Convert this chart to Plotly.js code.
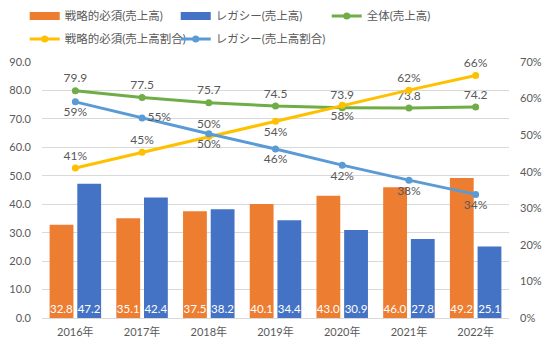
<!DOCTYPE html>
<html><head><meta charset="utf-8">
<script src="https://cdn.plot.ly/plotly-3.0.1.min.js"></script>
<style>html,body{margin:0;padding:0;background:#fff}#chart{width:550px;height:351px}</style>
</head><body><div id="chart"></div>
<script>
const years = ['2016年','2017年','2018年','2019年','2020年','2021年','2022年'];
const strategicSales = [32.8, 35.1, 37.5, 40.1, 43.0, 46.0, 49.2];
const legacySales = [47.2, 42.4, 38.2, 34.4, 30.9, 27.8, 25.1];
const totalSales = [79.9, 77.5, 75.7, 74.5, 73.9, 73.8, 74.2];
const strategicShare = [0.410, 0.453, 0.496, 0.538, 0.582, 0.623, 0.663];
const legacyShare = [0.591, 0.547, 0.504, 0.462, 0.418, 0.377, 0.338];
const names = ['戦略的必須(売上高)','レガシー(売上高)','全体(売上高)','戦略的必須(売上高割合)','レガシー(売上高割合)'];

const C = {orange:'#ED7D31', blue:'#4472C4', green:'#70AD47', yellow:'#FFC000', lblue:'#5B9BD5', text:'#595959'};
const lblFont = {size:12, color:C.text};

const traces = [
  {type:'scatter', mode:'lines', x:[null], y:[null], name:names[0], line:{color:C.orange, width:8}, legend:'legend', hoverinfo:'skip'},
  {type:'scatter', mode:'lines', x:[null], y:[null], name:names[1], line:{color:C.blue, width:8}, legend:'legend', hoverinfo:'skip'},
  {type:'bar', x:years, y:strategicSales, name:names[0], showlegend:false, marker:{color:C.orange},
   texttemplate:'%{y:.1f}', textposition:'inside', insidetextanchor:'start', textangle:0, constraintext:'none',
   textfont:{size:11.5, color:'#ffffff'}, cliponaxis:false},
  {type:'bar', x:years, y:legacySales, name:names[1], showlegend:false, marker:{color:C.blue},
   texttemplate:'%{y:.1f}', textposition:'inside', insidetextanchor:'start', textangle:0, constraintext:'none',
   textfont:{size:11.5, color:'#ffffff'}, cliponaxis:false},
  {type:'scatter', mode:'lines+markers+text', x:years, y:totalSales, name:names[2], legend:'legend',
   line:{color:C.green, width:3}, marker:{color:C.green, size:7}, cliponaxis:false,
   texttemplate:'%{y:.1f}', textposition:'top center', textfont:lblFont},
  {type:'scatter', mode:'lines+markers+text', x:years, y:strategicShare, name:names[3], yaxis:'y2', legend:'legend2',
   line:{color:C.yellow, width:3}, marker:{color:C.yellow, size:7}, cliponaxis:false,
   texttemplate:'%{y:.0%}', textfont:lblFont,
   textposition:['top center','top center','top center','bottom center','bottom center','top center','top center']},
  {type:'scatter', mode:'lines+markers+text', x:years, y:legacyShare, name:names[4], yaxis:'y2', legend:'legend2',
   line:{color:C.lblue, width:3}, marker:{color:C.lblue, size:7}, cliponaxis:false,
   texttemplate:'%{y:.0%}', textfont:lblFont,
   textposition:['bottom center','middle right','bottom center','bottom center','bottom center','bottom center','bottom center']}
];

const legendBase = {orientation:'h', xref:'paper', yref:'paper', xanchor:'left', yanchor:'middle',
  entrywidth:106, entrywidthmode:'pixels', font:{size:11.5, color:C.text}, bgcolor:'rgba(0,0,0,0)', traceorder:'normal'};

const layout = {
  width:550, height:351,
  margin:{l:42, r:41, t:62, b:33, autoexpand:false},
  paper_bgcolor:'#ffffff', plot_bgcolor:'#ffffff',
  font:{family:"Lato, 'Noto Sans CJK JP', sans-serif", color:C.text, size:11},
  barmode:'group', bargap:0.17, bargroupgap:0.14,
  showlegend:true,
  legend:Object.assign({}, legendBase, {x:-0.037, y:1.18}),
  legend2:Object.assign({}, legendBase, {x:-0.037, y:1.09}),
  xaxis:{type:'category', showline:true, linecolor:'#d9d9d9', linewidth:1, ticks:'', showgrid:false,
    tickfont:{size:11, color:C.text}, ticklabelstandoff:4, fixedrange:true},
  yaxis:{range:[0,90], dtick:10, tickformat:'.1f', showgrid:true, gridcolor:'#d9d9d9', gridwidth:1,
    zeroline:false, showline:false, ticks:'', tickfont:{size:11, color:C.text}, ticklabelstandoff:10},
  yaxis2:{overlaying:'y', side:'right', range:[0,0.7], dtick:0.1, tickformat:'.0%', showgrid:false,
    zeroline:false, showline:false, ticks:'', tickfont:{size:11, color:C.text}, ticklabelstandoff:10}
};

Plotly.newPlot('chart', traces, layout, {displayModeBar:false, staticPlot:true});
</script></body></html>
